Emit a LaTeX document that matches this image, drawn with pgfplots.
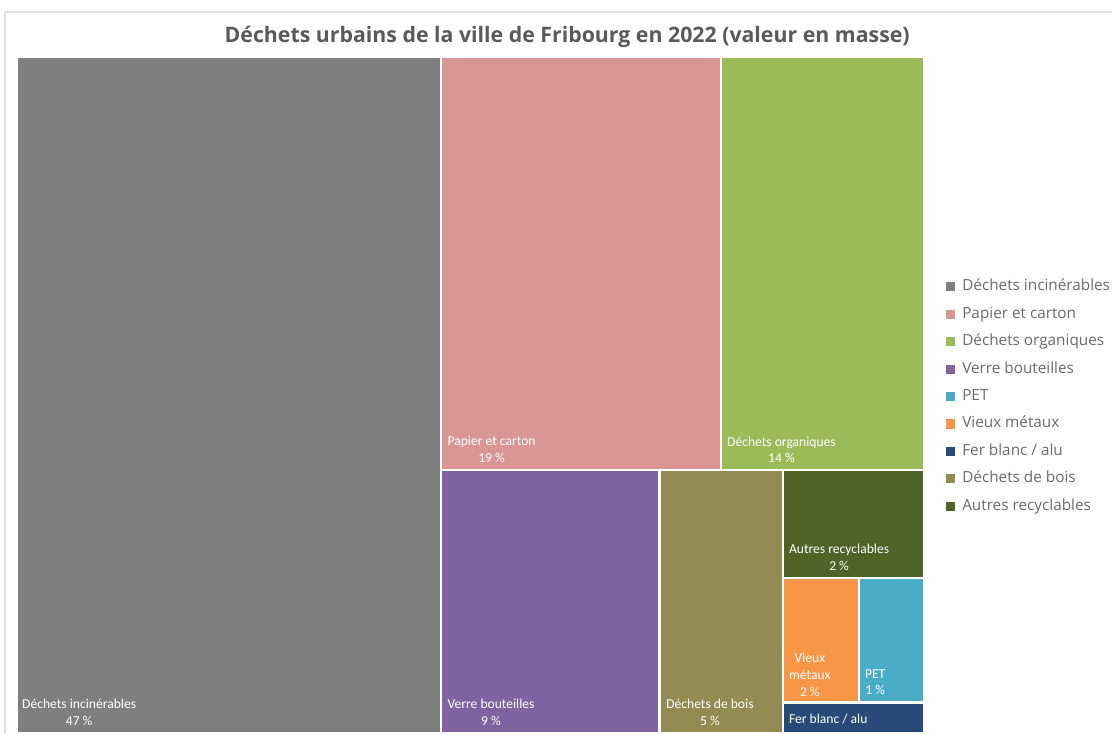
\documentclass[border=0pt]{standalone}
\usepackage{pgfplots}
\pgfplotsset{compat=1.18}
\usepackage{fontspec}
\setmainfont{Open Sans}
\newfontfamily\carlito{Carlito}

\definecolor{cInc}{HTML}{7F7F7F}
\definecolor{cPap}{HTML}{D99694}
\definecolor{cOrg}{HTML}{9BBB59}
\definecolor{cVer}{HTML}{8064A2}
\definecolor{cPet}{HTML}{4BACC6}
\definecolor{cMet}{HTML}{F79646}
\definecolor{cFer}{HTML}{274A78}
\definecolor{cBoi}{HTML}{948A54}
\definecolor{cAut}{HTML}{4F6228}
\definecolor{cTxt}{HTML}{595959}

\begin{document}
\begin{tikzpicture}
\begin{axis}[
    width=835.5pt, height=551.25pt,
    scale only axis,
    hide axis,
    xmin=0, xmax=1114, ymin=0, ymax=735,
    y dir=reverse,
    clip=false,
    legend cell align=left,
    legend image code/.code={\fill[#1,draw=none] (0pt,-3.4pt) rectangle (6.8pt,3.4pt);},
    legend style={at={(axis cs:943,277)}, anchor=north west, draw=none, fill=none,
        font=\fontsize{11.5}{13}\selectfont\color{cTxt!90},
        nodes={inner sep=0pt, text height=8.5pt, text depth=2.5pt},
        row sep=9.6pt, column sep=5.5pt},
    every axis plot/.append style={draw=white, line width=1.6pt},
]
% full canvas, so the page keeps the reference size
\path (axis cs:0,0) rectangle (axis cs:1114,735);
% chart frame
\draw[color=black!12, line width=0.8pt] (axis cs:5,735) -- (axis cs:5,12) -- (axis cs:1114,12);

% Treemap tiles, pixel coords (x0,y0)-(x1,y1)
\addplot[fill=cInc] coordinates {(17,57) (442,57) (442,734) (17,734)} -- cycle;
\addlegendentry{Déchets incinérables}
\addplot[fill=cPap] coordinates {(442,57) (722,57) (722,470.5) (442,470.5)} -- cycle;
\addlegendentry{Papier et carton}
\addplot[fill=cOrg] coordinates {(722,57) (925,57) (925,470.5) (722,470.5)} -- cycle;
\addlegendentry{Déchets organiques}
\addplot[fill=cVer] coordinates {(442,470.5) (660.5,470.5) (660.5,734) (442,734)} -- cycle;
\addlegendentry{Verre bouteilles}
\addplot[fill=cPet] coordinates {(860,578.5) (925,578.5) (925,703.5) (860,703.5)} -- cycle;
\addlegendentry{PET}
\addplot[fill=cMet] coordinates {(784,578.5) (860,578.5) (860,703.5) (784,703.5)} -- cycle;
\addlegendentry{Vieux métaux}
\addplot[fill=cFer] coordinates {(784,703.5) (925,703.5) (925,734) (784,734)} -- cycle;
\addlegendentry{Fer blanc / alu}
\addplot[fill=cBoi] coordinates {(660.5,470.5) (784,470.5) (784,734) (660.5,734)} -- cycle;
\addlegendentry{Déchets de bois}
\addplot[fill=cAut] coordinates {(784,470.5) (925,470.5) (925,578.5) (784,578.5)} -- cycle;
\addlegendentry{Autres recyclables}

% title
\node[font=\bfseries\fontsize{16}{19}\selectfont, text=cTxt] at (axis cs:568,37) {Déchets urbains de la ville de Fribourg en 2022 (valeur en masse)};

% tile labels
\tikzset{lab/.style={anchor=north west, align=center, inner sep=0pt, text=white,
    font=\carlito\fontsize{10.2}{12.6}\selectfont}}
\node[lab] at (axis cs:22,700) {Déchets incinérables\\47 \%};
\node[lab] at (axis cs:448,437) {Papier et carton\\19 \%};
\node[lab] at (axis cs:728,437) {Déchets organiques\\14 \%};
\node[lab] at (axis cs:448,700) {Verre bouteilles\\9 \%};
\node[lab] at (axis cs:667,700) {Déchets de bois\\5 \%};
\node[lab] at (axis cs:790,545) {Autres recyclables\\2 \%};
\node[lab] at (axis cs:790,654) {Vieux\\métaux\\2 \%};
\node[lab] at (axis cs:866,670) {PET\\1 \%};
\node[lab] at (axis cs:790,715) {Fer blanc / alu};
\end{axis}
\end{tikzpicture}
\end{document}
